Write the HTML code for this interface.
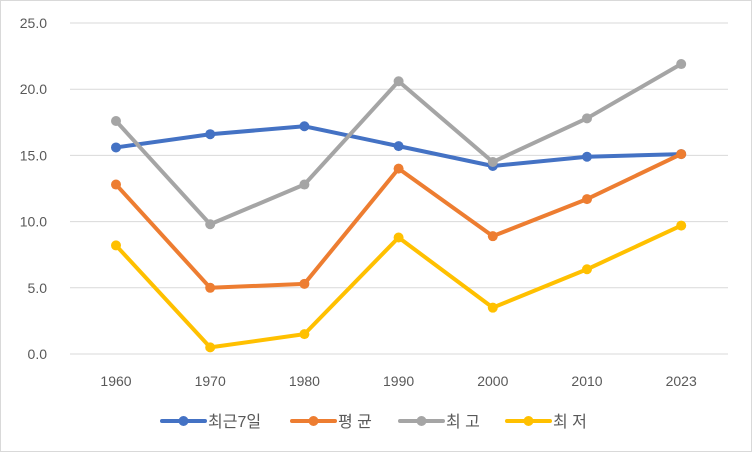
<!DOCTYPE html>
<html><head><meta charset="utf-8"><style>
body{margin:0;background:#fff}
svg text{font-family:"Liberation Sans","Noto Sans CJK KR",sans-serif;fill:#595959}
</style></head><body>
<svg id="c" width="752" height="452" xmlns="http://www.w3.org/2000/svg">
<rect x="0.5" y="0.5" width="751" height="451" fill="#fff" stroke="#d9d9d9"/>
<g id="grid"></g><g id="axes"></g><g id="series"></g><g id="legend"></g>
</svg>
<script>
const categories=["1960","1970","1980","1990","2000","2010","2023"];
const yTicks=[0,5,10,15,20,25];
const seriesNames=["최근7일","평 균","최 고","최 저"];
const seriesColors=["#4472c4","#ed7d31","#a5a5a5","#ffc000"];
const recent7=[15.6,16.6,17.2,15.7,14.2,14.9,15.1];
const avgVals=[12.8,5.0,5.3,14.0,8.9,11.7,15.1];
const maxVals=[17.6,9.8,12.8,20.6,14.5,17.8,21.9];
const minVals=[8.2,0.5,1.5,8.8,3.5,6.4,9.7];
const allSeries=[recent7,avgVals,maxVals,minVals];
const NS="http://www.w3.org/2000/svg";
const x=i=>116+i*94.2;
const y=v=>354-v*13.24;
function mk(tag,attrs,parent){const e=document.createElementNS(NS,tag);for(const k in attrs)e.setAttribute(k,attrs[k]);parent.appendChild(e);return e;}
const grid=document.getElementById('grid'),axes=document.getElementById('axes'),ser=document.getElementById('series'),leg=document.getElementById('legend');
yTicks.forEach(t=>{
 const l=mk('line',{x1:70,x2:728,y1:y(t),y2:y(t),stroke:'#d9d9d9','stroke-width':1},grid);
 
 
 const tx=mk('text',{x:47,y:y(t)+5,'text-anchor':'end','font-size':14},axes);
 tx.textContent=t.toFixed(1);
 
 
});
categories.forEach((c,i)=>{
 const tx=mk('text',{x:x(i),y:386,'text-anchor':'middle','font-size':14},axes);
 tx.textContent=c;
 
 
});
allSeries.forEach((vals,s)=>{
 const g=mk('g',{},ser);
 
 
 const p=mk('polyline',{points:vals.map((v,i)=>x(i)+','+y(v)).join(' '),fill:'none',stroke:seriesColors[s],'stroke-width':4,'stroke-linejoin':'round','stroke-linecap':'round'},g);
 
 
 vals.forEach((v,i)=>{
  const c=mk('circle',{cx:x(i),cy:y(v),r:5,fill:seriesColors[s]},g);
  
  
 });
});
const legX=[162,292,400,507];
seriesNames.forEach((n,s)=>{
 const g=mk('g',{},leg);
 
 
 mk('line',{x1:legX[s],x2:legX[s]+43,y1:421,y2:421,stroke:seriesColors[s],'stroke-width':4,'stroke-linecap':'round'},g);
 mk('circle',{cx:legX[s]+21.5,cy:421,r:5,fill:seriesColors[s]},g);
 const t=mk('text',{x:legX[s]+46,y:427,'font-size':16},g);
 t.textContent=n;
});
</script>
</body></html>
